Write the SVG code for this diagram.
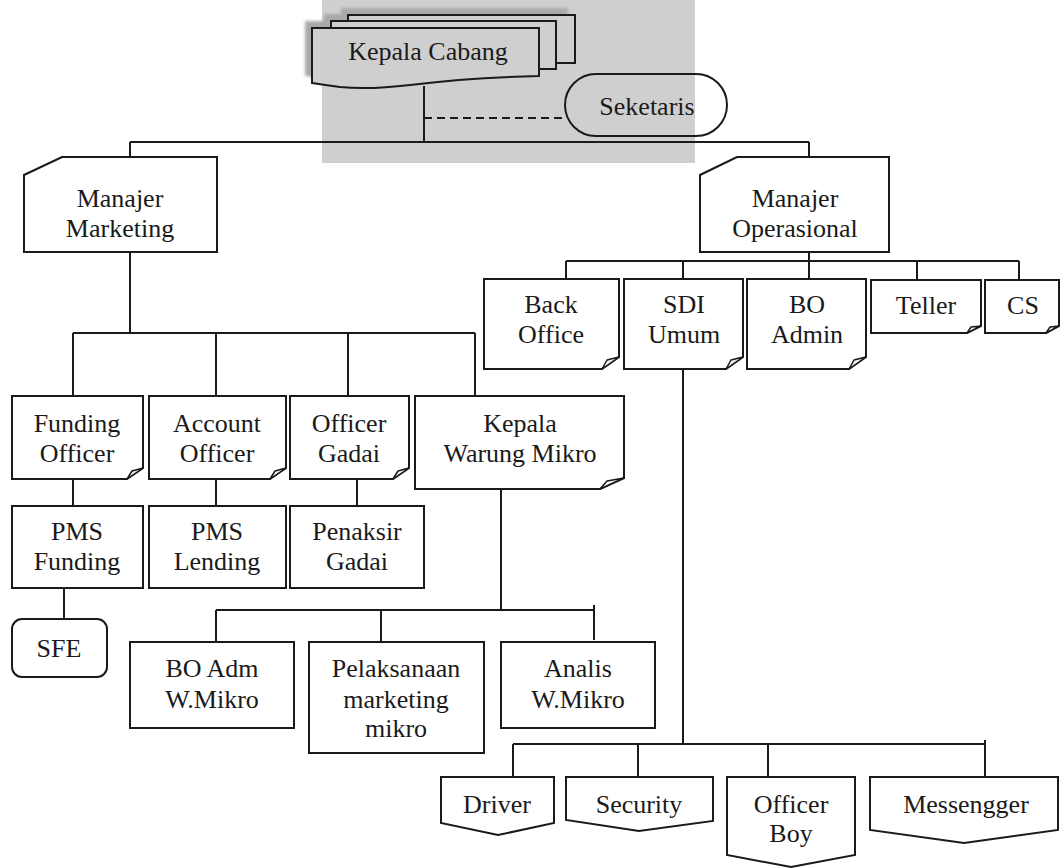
<svg xmlns="http://www.w3.org/2000/svg" width="1060" height="868" viewBox="0 0 1060 868">
<defs>
<style>
.t{font-family:"Liberation Serif","Times New Roman",serif;font-size:26px;fill:#1a1a1a;text-anchor:middle}
.b{fill:none;stroke:#1a1a1a;stroke-width:2;stroke-linejoin:miter}
.bf{fill:#ffffff;fill-opacity:0;stroke:#1a1a1a;stroke-width:2}
.c{fill:none;stroke:#1a1a1a;stroke-width:2}
.d{fill:none;stroke:#1a1a1a;stroke-width:2;stroke-dasharray:8 5}
.sh{fill:#a9a9a9}
.g{fill:#cfcfcf;stroke:#1a1a1a;stroke-width:2}
.curl{fill:#f4f4f4;stroke:#1a1a1a;stroke-width:1.5;stroke-linejoin:round}
</style>
<filter id="blur" x="-10%" y="-10%" width="120%" height="120%"><feGaussianBlur stdDeviation="1.5"/></filter>
</defs>
<rect x="0" y="0" width="1060" height="868" fill="#ffffff"/>
<rect x="322" y="0" width="373" height="163" fill="#cfcfcf"/>

<g id="connectors">
<line class="c" x1="424" y1="86" x2="424" y2="142"/>
<line class="d" x1="424" y1="118" x2="565" y2="118"/>
<line class="c" x1="130" y1="142" x2="809" y2="142"/>
<line class="c" x1="130" y1="142" x2="130" y2="157"/>
<line class="c" x1="809" y1="142" x2="809" y2="157"/>
<line class="c" x1="130" y1="252" x2="130" y2="333"/>
<line class="c" x1="73" y1="333" x2="475" y2="333"/>
<line class="c" x1="73" y1="333" x2="73" y2="396"/>
<line class="c" x1="216" y1="333" x2="216" y2="396"/>
<line class="c" x1="348" y1="333" x2="348" y2="396"/>
<line class="c" x1="475" y1="333" x2="475" y2="396"/>
<line class="c" x1="809" y1="252" x2="809" y2="261"/>
<line class="c" x1="566" y1="261" x2="1019" y2="261"/>
<line class="c" x1="566" y1="261" x2="566" y2="279"/>
<line class="c" x1="683" y1="261" x2="683" y2="279"/>
<line class="c" x1="809" y1="261" x2="809" y2="279"/>
<line class="c" x1="917" y1="261" x2="917" y2="279"/>
<line class="c" x1="1019" y1="261" x2="1019" y2="279"/>
<line class="c" x1="73" y1="479" x2="73" y2="506"/>
<line class="c" x1="216" y1="479" x2="216" y2="506"/>
<line class="c" x1="357" y1="479" x2="357" y2="506"/>
<line class="c" x1="64" y1="588" x2="64" y2="619"/>
<line class="c" x1="501" y1="489" x2="501" y2="610"/>
<line class="c" x1="216" y1="610" x2="594" y2="610"/>
<line class="c" x1="216" y1="610" x2="216" y2="642"/>
<line class="c" x1="381" y1="610" x2="381" y2="642"/>
<line class="c" x1="594" y1="605" x2="594" y2="640"/>
<line class="c" x1="683" y1="369" x2="683" y2="744"/>
<line class="c" x1="513" y1="744" x2="985" y2="744"/>
<line class="c" x1="513" y1="744" x2="513" y2="777"/>
<line class="c" x1="638" y1="744" x2="638" y2="777"/>
<line class="c" x1="768" y1="744" x2="768" y2="777"/>
<line class="c" x1="985" y1="740" x2="985" y2="776"/>
</g>

<g id="kepala-cabang">
<g filter="url(#blur)">
<rect class="sh" x="341" y="8" width="227" height="48"/>
<rect class="sh" x="324" y="14" width="225" height="48"/>
<path class="sh" d="M305,21 H532 V69 C483,70 443,73 403,78 C378,81 353,82 333,80 Q318,78 305,76 Z"/>
</g>
<rect class="g" x="348" y="15" width="227" height="48"/>
<rect class="g" x="331" y="21" width="225" height="48"/>
<path class="g" d="M312,28 H539 V76 C490,77 450,80 410,85 C385,88 360,89 340,87 Q325,85 312,83 Z"/>
<text class="t" x="428" y="60">Kepala Cabang</text>
</g>

<g id="seketaris">
<rect class="b" x="565" y="74" width="162" height="62" rx="31" ry="31"/>
<text class="t" x="647" y="115">Seketaris</text>
</g>

<g id="manajer-marketing">
<path class="b" d="M62,157 H217 V252 H24 V175 Z"/>
<text class="t" x="120" y="207">Manajer</text>
<text class="t" x="120" y="237">Marketing</text>
</g>

<g id="manajer-operasional">
<path class="b" d="M737,157 H889 V252 H700 V175 Z"/>
<text class="t" x="795" y="207">Manajer</text>
<text class="t" x="795" y="237">Operasional</text>
</g>

<g id="back-office">
<path class="b" d="M484,279 H619 V357 L602,369 H484 Z"/>
<path class="curl" d="M602,369 L607,360 L619,357 Z"/>
<text class="t" x="551" y="313">Back</text>
<text class="t" x="551" y="343">Office</text>
</g>

<g id="sdi-umum">
<path class="b" d="M624,279 H743 V357 L726,369 H624 Z"/>
<path class="curl" d="M726,369 L731,360 L743,357 Z"/>
<text class="t" x="684" y="313">SDI</text>
<text class="t" x="684" y="343">Umum</text>
</g>

<g id="bo-admin">
<path class="b" d="M747,279 H866 V357 L849,369 H747 Z"/>
<path class="curl" d="M849,369 L854,360 L866,357 Z"/>
<text class="t" x="807" y="313">BO</text>
<text class="t" x="807" y="343">Admin</text>
</g>

<g id="teller">
<path class="b" d="M871,280 H981 V326 L967,333 H871 Z"/>
<path class="curl" d="M967,333 L971,327 L981,326 Z"/>
<text class="t" x="926" y="314">Teller</text>
</g>

<g id="cs">
<path class="b" d="M985,280 H1059 V326 L1046,333 H985 Z"/>
<path class="curl" d="M1046,333 L1050,327 L1059,326 Z"/>
<text class="t" x="1023" y="314">CS</text>
</g>

<g id="funding-officer">
<path class="b" d="M12,396 H143 V468 L127,479 H12 Z"/>
<path class="curl" d="M127,479 L132,471 L143,468 Z"/>
<text class="t" x="77" y="432">Funding</text>
<text class="t" x="77" y="462">Officer</text>
</g>

<g id="account-officer">
<path class="b" d="M149,396 H286 V468 L270,479 H149 Z"/>
<path class="curl" d="M270,479 L275,471 L286,468 Z"/>
<text class="t" x="217" y="432">Account</text>
<text class="t" x="217" y="462">Officer</text>
</g>

<g id="officer-gadai">
<path class="b" d="M290,396 H409 V468 L393,479 H290 Z"/>
<path class="curl" d="M393,479 L398,471 L409,468 Z"/>
<text class="t" x="349" y="432">Officer</text>
<text class="t" x="349" y="462">Gadai</text>
</g>

<g id="kepala-warung-mikro">
<path class="b" d="M415,396 H624 V478 L600,489 H415 Z"/>
<path class="curl" d="M600,489 L607,481 L624,478 Z"/>
<text class="t" x="520" y="432">Kepala</text>
<text class="t" x="520" y="462">Warung Mikro</text>
</g>

<g id="pms-funding">
<rect class="b" x="12" y="506" width="131" height="82"/>
<text class="t" x="77" y="540">PMS</text>
<text class="t" x="77" y="570">Funding</text>
</g>

<g id="pms-lending">
<rect class="b" x="149" y="506" width="137" height="82"/>
<text class="t" x="217" y="540">PMS</text>
<text class="t" x="217" y="570">Lending</text>
</g>

<g id="penaksir-gadai">
<rect class="b" x="290" y="506" width="134" height="82"/>
<text class="t" x="357" y="540">Penaksir</text>
<text class="t" x="357" y="570">Gadai</text>
</g>

<g id="sfe">
<rect class="b" x="12" y="619" width="95" height="58" rx="10" ry="10"/>
<text class="t" x="59" y="657">SFE</text>
</g>

<g id="bo-adm-wmikro">
<rect class="b" x="130" y="642" width="164" height="86"/>
<text class="t" x="212" y="677">BO Adm</text>
<text class="t" x="212" y="708">W.Mikro</text>
</g>

<g id="pelaksanaan">
<rect class="b" x="309" y="642" width="175" height="111"/>
<text class="t" x="396" y="677">Pelaksanaan</text>
<text class="t" x="396" y="708">marketing</text>
<text class="t" x="396" y="737">mikro</text>
</g>

<g id="analis-wmikro">
<rect class="b" x="501" y="642" width="154" height="86"/>
<text class="t" x="578" y="677">Analis</text>
<text class="t" x="578" y="708">W.Mikro</text>
</g>

<g id="driver">
<path class="b" d="M441,777 H554 V823 L498,835 L441,823 Z"/>
<text class="t" x="497" y="813">Driver</text>
</g>

<g id="security">
<path class="b" d="M566,777 H713 V821 L639,831 L566,820 Z"/>
<text class="t" x="639" y="813">Security</text>
</g>

<g id="officer-boy">
<path class="b" d="M727,777 H855 V855 L791,867 L727,855 Z"/>
<text class="t" x="791" y="813">Officer</text>
<text class="t" x="791" y="842">Boy</text>
</g>

<g id="messengger">
<path class="b" d="M870,777 H1058 V830 L964,843 L870,830 Z"/>
<text class="t" x="966" y="813">Messengger</text>
</g>
</svg>
